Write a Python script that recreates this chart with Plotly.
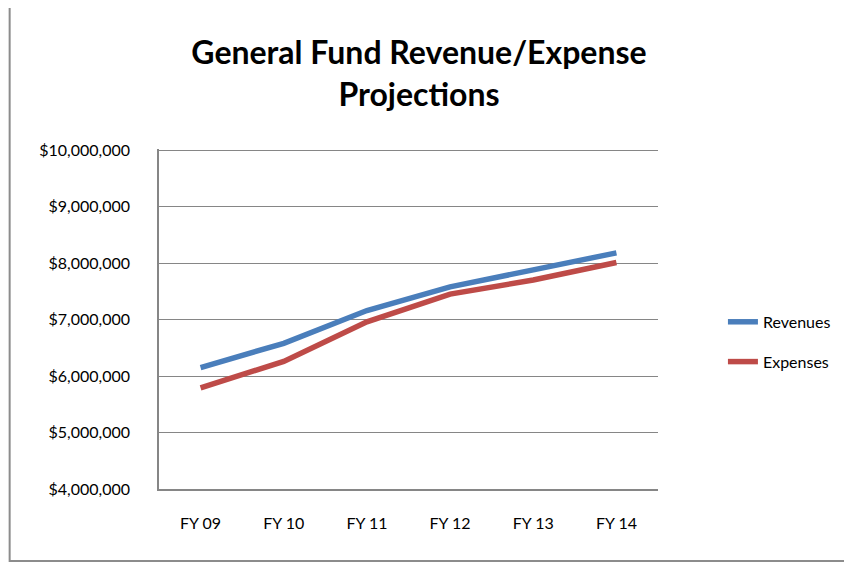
import plotly.graph_objects as go

categories = ["FY 09", "FY 10", "FY 11", "FY 12", "FY 13", "FY 14"]
revenues = [6150000, 6580000, 7160000, 7580000, 7880000, 8180000]
expenses = [5790000, 6260000, 6960000, 7450000, 7700000, 8010000]
y_ticks = [4000000, 5000000, 6000000, 7000000, 8000000, 9000000, 10000000]
title_text = "General Fund Revenue/Expense<br>Projections"

# page body has an 8px default margin; work in screen pixels and subtract it
OFF = 8
W, H = 852 - OFF, 563 - OFF
YMIN, YMAX = 4000000, 10020000
px_per_unit = (489.3 - 150.0) / 6000000
plot_left, plot_right = 158.5, 658.0
plot_bottom = 489.3
plot_top = plot_bottom - (YMAX - YMIN) * px_per_unit

L = plot_left - OFF
R = W - (plot_right - OFF)
T = plot_top - OFF
B = H - (plot_bottom - OFF)
pw, ph = W - L - R, H - T - B

def px_x(p):
    return (p - OFF - L) / pw

def px_y(p):
    return (H - B - (p - OFF)) / ph

FONT = "Lato"
grid = "#868686"

fig = go.Figure()
fig.add_trace(go.Scatter(x=categories, y=revenues, name="Revenues", mode="lines",
                         line=dict(color="#4A7EBB", width=5.5), legendgroup="r"))
fig.add_trace(go.Scatter(x=categories, y=expenses, name="Expenses", mode="lines",
                         line=dict(color="#BE4B48", width=5.5), legendgroup="e"))

fig.update_layout(
    width=W, height=H,
    margin=dict(l=L, r=R, t=T, b=B, autoexpand=False),
    paper_bgcolor="white", plot_bgcolor="white",
    font=dict(family=FONT, size=16, color="#000000"),
    title=dict(text=title_text, x=(419 - OFF) / W, xanchor="center",
               y=1 - (64 - OFF) / H, yanchor="top",
               font=dict(family=FONT, size=32, color="#000000", weight="bold")),
    legend=dict(x=px_x(723), xanchor="left", y=px_y(342), yanchor="middle",
                traceorder="grouped", tracegroupgap=16, font=dict(size=16),
                bgcolor="rgba(0,0,0,0)"),
    xaxis=dict(type="category", range=[-0.5, 5.5], showgrid=False, showline=True,
               linecolor=grid, linewidth=2, ticks="", ticklabelstandoff=19, fixedrange=True),
    yaxis=dict(range=[YMIN, YMAX], tickvals=y_ticks, tickformat="$,.0f",
               showgrid=True, gridcolor=grid, gridwidth=1, showline=True,
               linecolor=grid, linewidth=1.5, ticks="", ticklabelstandoff=24,
               zeroline=False, fixedrange=True),
    shapes=[dict(type="rect", xref="paper", yref="paper",
                 x0=px_x(9), x1=px_x(852 + 20), y0=px_y(561.5), y1=px_y(6),
                 line=dict(color="#8C8C8C", width=2), fillcolor="rgba(0,0,0,0)", layer="below")],
)

fig.write_html("out.html")
